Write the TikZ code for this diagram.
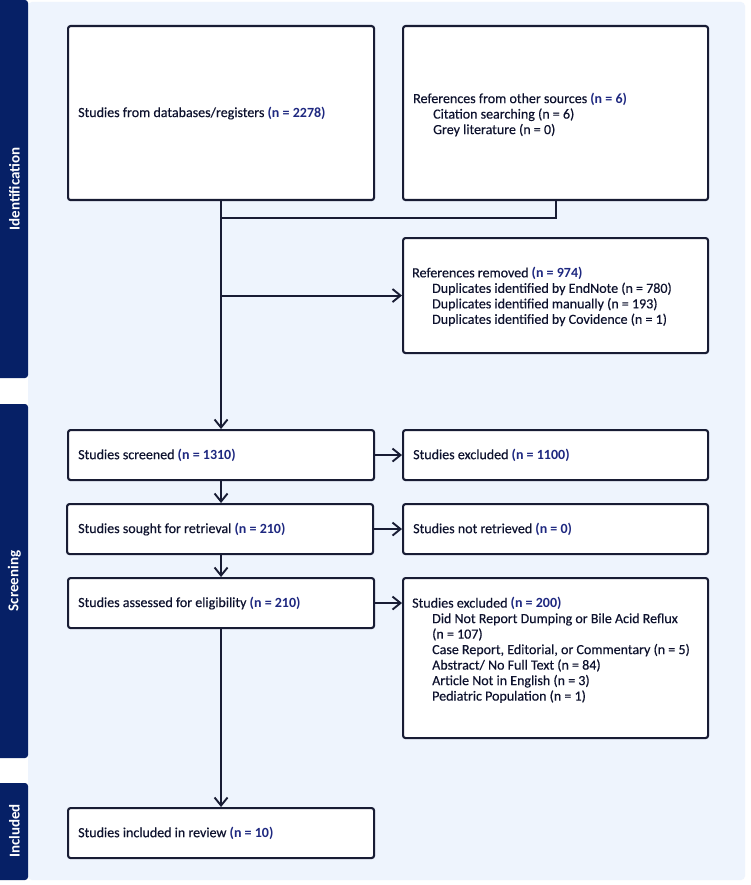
\documentclass[tikz,border=0pt]{standalone}
\usepackage{fontspec}
\setmainfont{Carlito}[UprightFeatures={FakeBold=0.35}]
\usetikzlibrary{arrows.meta,calc}
\definecolor{panelcol}{RGB}{238,244,253}
\definecolor{sidecol}{RGB}{6,32,102}
\definecolor{bordercol}{RGB}{24,28,52}
\definecolor{textcol}{RGB}{14,18,46}
\definecolor{numcol}{RGB}{30,40,128}
\newcommand{\nn}[1]{\textbf{\color{numcol}#1}}
\begin{document}
\begin{tikzpicture}[x=1pt,y=-1pt,
  box/.style={draw=bordercol, line width=2.1pt, rounded corners=2.5pt, fill=white, inner sep=0pt, anchor=north west},
  txt/.style={font=\fontsize{14}{15.5}\selectfont, text=textcol, align=left, inner sep=0pt, anchor=west},
  side/.style={fill=sidecol, rounded corners=3pt},
  sidetxt/.style={font=\fontsize{15}{16}\selectfont\bfseries, text=white, rotate=90, inner sep=0pt},
  link/.style={draw=bordercol, line width=2.1pt},
  arr/.style={link, -{Straight Barb[length=8pt,width=13pt,line width=1.9pt]}}
]
\useasboundingbox (0,0) rectangle (750,885);
\fill[white] (0,0) rectangle (750,885);
\fill[panelcol, rounded corners=4pt] (28,2) rectangle (745,880);
% side bars
\fill[side] (-5,0) rectangle (28,378);
\fill[side] (-5,404) rectangle (28,758);
\fill[side] (-5,783) rectangle (28,880);
\node[sidetxt] (sid) at (14.5,189) {Identification};
\node[sidetxt] (ssc) at (14.5,581) {Screening};
\node[sidetxt] (sin) at (14.5,831) {Included};
% boxes
\node[box, minimum width=306pt, minimum height=174pt] (db) at (67,25) {};
\node[box, minimum width=305pt, minimum height=174pt] (other) at (402,25) {};
\node[box, minimum width=305pt, minimum height=115pt] (removed) at (402,237) {};
\node[box, minimum width=306pt, minimum height=50pt] (screened) at (67,429) {};
\node[box, minimum width=305pt, minimum height=50pt] (excl1) at (402,429) {};
\node[box, minimum width=306pt, minimum height=50pt] (sought) at (66,503) {};
\node[box, minimum width=305pt, minimum height=50pt] (notret) at (402,503) {};
\node[box, minimum width=306pt, minimum height=50pt] (assessed) at (67,577) {};
\node[box, minimum width=305pt, minimum height=160pt] (excl2) at (402,577) {};
\node[box, minimum width=306pt, minimum height=50pt] (included) at (67,807) {};
% texts
\node[txt] (dbt) at ([xshift=11pt]db.west) {Studies from databases/registers \nn{(n = 2278)}};
\node[txt] (othert) at ([xshift=11pt,yshift=-1.5pt]other.west) {References from other sources \nn{(n = 6)}\\
\hspace*{20pt}Citation searching (n = 6)\\
\hspace*{20pt}Grey literature (n = 0)};
\node[txt] (removedt) at ([xshift=10pt,yshift=-1pt]removed.west) {References removed \nn{(n = 974)}\\
\hspace*{20pt}Duplicates identified by EndNote (n = 780)\\
\hspace*{20pt}Duplicates identified manually (n = 193)\\
\hspace*{20pt}Duplicates identified by Covidence (n = 1)};
\node[txt] (screenedt) at ([xshift=11pt]screened.west) {Studies screened \nn{(n = 1310)}};
\node[txt] (excl1t) at ([xshift=11pt]excl1.west) {Studies excluded \nn{(n = 1100)}};
\node[txt] (soughtt) at ([xshift=12pt]sought.west) {Studies sought for retrieval \nn{(n = 210)}};
\node[txt] (notrett) at ([xshift=11pt]notret.west) {Studies not retrieved \nn{(n = 0)}};
\node[txt] (assessedt) at ([xshift=11pt]assessed.west) {Studies assessed for eligibility \nn{(n = 210)}};
\node[txt] (excl2t) at ([xshift=10pt,yshift=8pt]excl2.west) {Studies excluded \nn{(n = 200)}\\
\hspace*{20pt}Did Not Report Dumping or Bile Acid Reflux\\
\hspace*{20pt}(n = 107)\\
\hspace*{20pt}Case Report, Editorial, or Commentary (n = 5)\\
\hspace*{20pt}Abstract/ No Full Text (n = 84)\\
\hspace*{20pt}Article Not in English (n = 3)\\
\hspace*{20pt}Pediatric Population (n = 1)};
\node[txt] (includedt) at ([xshift=11pt]included.west) {Studies included in review \nn{(n = 10)}};
% connectors
\coordinate (join) at (db.south |- 0,218);
\coordinate (branch) at (db.south |- removed.west);
\coordinate (exbranch) at (assessed.east);
\draw[link] (other.south) |- (join);
\draw[arr] (db.south) -- (screened.north);
\draw[arr] (branch) -- (removed.west);
\draw[arr] (screened.east) -- (excl1.west);
\draw[arr] (screened.south) -- (screened.south |- sought.north);
\draw[arr] (sought.east) -- (notret.west);
\draw[arr] (sought.south -| screened.south) -- (assessed.north);
\draw[arr] (exbranch) -- (excl2.west |- exbranch);
\draw[arr] (assessed.south) -- (included.north);
\end{tikzpicture}
\end{document}
